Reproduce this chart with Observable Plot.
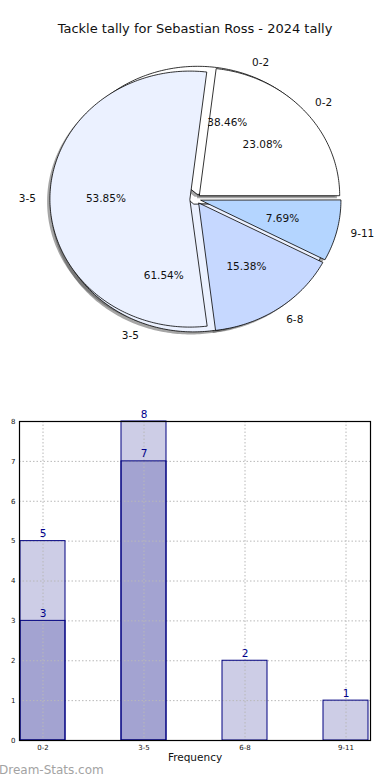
<!DOCTYPE html>
<html>
<head>
<meta charset="utf-8">
<script src="https://cdn.jsdelivr.net/npm/d3@7"></script>
<script src="https://cdn.jsdelivr.net/npm/@observablehq/plot@0.6"></script>
<style>
  html, body { margin: 0; padding: 0; background: #fff; }
  #page { position: relative; width: 390px; height: 780px; overflow: hidden; font-family: "DejaVu Sans", sans-serif; }
  #title { position: absolute; left: 0; width: 390px; top: 21px; text-align: center; font-size: 13px; color: #111; }
  #pie { position: absolute; left: 0; top: 0; }
  #bar { position: absolute; left: 0; top: 400px; }
  #mark { position: absolute; left: -1px; top: 763px; font-size: 12px; color: #a3a3a3; }
</style>
</head>
<body>
<div id="page">
  <div id="pie"></div>
  <div id="title">Tackle tally for Sebastian Ross - 2024 tally</div>
  <div id="bar"></div>
  <div id="mark">Dream-Stats.com</div>
</div>
<script>
// ---- data ----
const outerLabels = ["0-2", "3-5"];
const outerValues = [5, 8];
const outerColors = ["#ffffff", "#ebf1ff"];

const innerLabels = ["0-2", "3-5", "6-8", "9-11"];
const innerValues = [3, 7, 2, 1];
const innerColors = ["#ffffff", "#ebf1ff", "#c6d8ff", "#b4d5ff"];

const barCategories = ["0-2", "3-5", "6-8", "9-11"];
const barTotals = [5, 8, 2, 1];
const barSubCategories = ["0-2", "3-5"];
const barSubValues = [3, 7];
const yTicks = [0, 1, 2, 3, 4, 5, 6, 7, 8];

// ---- pie geometry (matplotlib-like: start at 0 deg, counterclockwise) ----
const EXPLODE = 0.04;
const SHADOW = -0.02;
function buildPie(values, labels, colors, pieId) {
  const total = d3.sum(values);
  const polys = [], lbls = [], pcts = [];
  let acc = 0;
  values.forEach((v, i) => {
    const frac = v / total;
    const a0 = acc * 360, a1 = (acc + frac) * 360;
    acc += frac;
    const tm = ((a0 + a1) / 2) * Math.PI / 180;
    const ox = EXPLODE * Math.cos(tm), oy = EXPLODE * Math.sin(tm);
    const id = pieId + "-" + i;
    polys.push({id, x: ox, y: oy, color: colors[i]});
    const n = Math.max(2, Math.ceil(a1 - a0) + 1);
    for (let k = 0; k <= n; k++) {
      const a = (a0 + (a1 - a0) * k / n) * Math.PI / 180;
      polys.push({id, x: ox + Math.cos(a), y: oy + Math.sin(a), color: colors[i]});
    }
    const lx = ox + 1.1 * Math.cos(tm), ly = oy + 1.1 * Math.sin(tm);
    lbls.push({x: lx, y: ly, text: labels[i], side: lx > 0 ? "left" : "right"});
    pcts.push({x: ox + 0.6 * Math.cos(tm), y: oy + 0.6 * Math.sin(tm), text: (frac * 100).toFixed(2) + "%"});
  });
  return {polys, lbls, pcts};
}
const outer = buildPie(outerValues, outerLabels, outerColors, "a");
const inner = buildPie(innerValues, innerLabels, innerColors, "b");
const shadows = outer.polys.concat(inner.polys).map(d => ({...d, x: d.x + SHADOW, y: d.y + SHADOW}));
const allLabels = outer.lbls.concat(inner.lbls);
const allPcts = outer.pcts.concat(inner.pcts);

const pieW = 390, pieH = 380, cx = 195, cy = 198.6, rx = 140, ry = 128;
const pie = Plot.plot({
  width: pieW, height: pieH,
  margin: 0,
  x: {domain: [-cx / rx, (pieW - cx) / rx], axis: null},
  y: {domain: [(cy - pieH) / ry, cy / ry], axis: null},
  color: {type: "identity"},
  style: {fontFamily: "DejaVu Sans", background: "transparent"},
  marks: [
    Plot.line(shadows, {x: "x", y: "y", z: "id", curve: "linear-closed", fill: "#4d4d4d", fillOpacity: 0.5, stroke: "none"}),
    Plot.line(outer.polys, {x: "x", y: "y", z: "id", curve: "linear-closed", fill: "color", stroke: "#000", strokeWidth: 0.8}),
    Plot.line(inner.polys, {x: "x", y: "y", z: "id", curve: "linear-closed", fill: "color", stroke: "#000", strokeWidth: 0.8}),
    Plot.text(allPcts, {x: "x", y: "y", text: "text", fontSize: 10.5, fill: "#111"}),
    Plot.text(allLabels.filter(d => d.side === "left"), {x: "x", y: "y", text: "text", textAnchor: "start", fontSize: 10.5, fill: "#111"}),
    Plot.text(allLabels.filter(d => d.side === "right"), {x: "x", y: "y", text: "text", textAnchor: "end", fontSize: 10.5, fill: "#111"})
  ]
});
document.getElementById("pie").appendChild(pie);

// ---- bar chart ----
const totalRows = barCategories.map((c, i) => ({cat: c, value: barTotals[i]}));
const subRows = barSubCategories.map((c, i) => ({cat: c, value: barSubValues[i]}));
const gridStyle = {stroke: "#b8b8b8", strokeWidth: 1, strokeDasharray: "1.5,2"};
const bar = Plot.plot({
  width: 390, height: 380,
  marginLeft: 19, marginRight: 20, marginTop: 21, marginBottom: 40,
  x: {type: "band", domain: barCategories, paddingInner: 0.55, paddingOuter: 0, align: 0.5, tickSize: 0, tickPadding: 5, label: null},
  y: {domain: [0, 8], ticks: yTicks, tickFormat: d => d, tickSize: 0, tickPadding: 4, label: null},
  style: {fontFamily: "DejaVu Sans", fontSize: "7px", color: "#111", background: "transparent"},
  marks: [
    Plot.barY(totalRows, {x: "cat", y: "value", fill: "#cdcde6"}),
    Plot.barY(subRows, {x: "cat", y: "value", fill: "#a3a3d1"}),
    Plot.ruleY(yTicks.slice(1, -1), {...gridStyle}),
    Plot.ruleX(barCategories, {...gridStyle}),
    Plot.barY(totalRows, {x: "cat", y: "value", fill: "none", stroke: "#000080", strokeWidth: 1}),
    Plot.barY(subRows, {x: "cat", y: "value", fill: "none", stroke: "#000080", strokeWidth: 1}),
    Plot.text(totalRows, {x: "cat", y: "value", text: d => String(d.value), dy: -4, lineAnchor: "bottom", fontSize: 10.5, fill: "#00008b"}),
    Plot.text(subRows, {x: "cat", y: "value", text: d => String(d.value), dy: -4, lineAnchor: "bottom", fontSize: 10.5, fill: "#00008b"}),
    Plot.frame({stroke: "#000", strokeWidth: 1.2}),
    Plot.text(["Frequency"], {frameAnchor: "bottom", dy: 20, text: d => d, fontSize: 10.5, fill: "#111"})
  ]
});
document.getElementById("bar").appendChild(bar);
</script>
</body>
</html>
